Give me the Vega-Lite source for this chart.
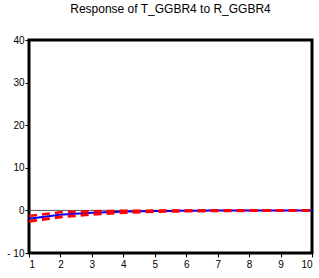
{
  "$schema": "https://vega.github.io/schema/vega-lite/v6.json",
  "autosize": "none",
  "width": 283,
  "height": 213,
  "padding": {"left": 29, "top": 40, "right": 7, "bottom": 25},
  "background": "white",
  "title": {"text": "Response of T_GGBR4 to R_GGBR4", "font": "Liberation Sans", "fontSize": 12, "fontWeight": "normal", "color": "#000000", "offset": 19, "anchor": "middle"},
  "config": {
    "view": {"stroke": "#000000", "strokeWidth": 3},
    "axis": {"labelFont": "Liberation Sans", "labelFontSize": 10, "labelColor": "#000000", "tickColor": "#000000", "tickWidth": 1, "tickSize": 4, "domain": false, "grid": false, "title": null}
  },
  "datasets": {
    "irf": [
      {"x": 1, "value": -1.95, "series": "resp"},
      {"x": 2, "value": -1.0, "series": "resp"},
      {"x": 3, "value": -0.55, "series": "resp"},
      {"x": 4, "value": -0.3, "series": "resp"},
      {"x": 5, "value": -0.15, "series": "resp"},
      {"x": 6, "value": -0.08, "series": "resp"},
      {"x": 7, "value": -0.04, "series": "resp"},
      {"x": 8, "value": -0.02, "series": "resp"},
      {"x": 9, "value": -0.01, "series": "resp"},
      {"x": 10, "value": 0.0, "series": "resp"},
      {"x": 1, "value": -1.3, "series": "upper"},
      {"x": 2, "value": -0.45, "series": "upper"},
      {"x": 3, "value": -0.2, "series": "upper"},
      {"x": 4, "value": -0.1, "series": "upper"},
      {"x": 5, "value": -0.04, "series": "upper"},
      {"x": 6, "value": 0.0, "series": "upper"},
      {"x": 7, "value": 0.01, "series": "upper"},
      {"x": 8, "value": 0.01, "series": "upper"},
      {"x": 9, "value": 0.01, "series": "upper"},
      {"x": 10, "value": 0.01, "series": "upper"},
      {"x": 1, "value": -2.55, "series": "lower"},
      {"x": 2, "value": -1.55, "series": "lower"},
      {"x": 3, "value": -0.9, "series": "lower"},
      {"x": 4, "value": -0.5, "series": "lower"},
      {"x": 5, "value": -0.27, "series": "lower"},
      {"x": 6, "value": -0.16, "series": "lower"},
      {"x": 7, "value": -0.09, "series": "lower"},
      {"x": 8, "value": -0.05, "series": "lower"},
      {"x": 9, "value": -0.03, "series": "lower"},
      {"x": 10, "value": -0.02, "series": "lower"}
    ],
    "zero": [{"y": 0}]
  },
  "layer": [
    {
      "data": {"name": "zero"},
      "mark": {"type": "rule", "color": "#555555", "strokeWidth": 1},
      "encoding": {"y": {"field": "y", "type": "quantitative", "scale": {"domain": [-10, 40]}}}
    },
    {
      "data": {"name": "irf"},
      "mark": {"type": "line", "clip": true},
      "encoding": {
        "x": {"field": "x", "type": "quantitative", "scale": {"domain": [1, 10], "nice": false}, "axis": {"values": [1,2,3,4,5,6,7,8,9,10], "labelPadding": 2}},
        "y": {"field": "value", "type": "quantitative", "scale": {"domain": [-10, 40], "nice": false}, "axis": {"values": [-10,0,10,20,30,40], "labelPadding": 1, "labelExpr": "datum.value < 0 ? '- ' + format(-datum.value, 'd') : datum.label"}},
        "detail": {"field": "series", "type": "nominal"},
        "color": {"field": "series", "type": "nominal", "scale": {"domain": ["resp", "upper", "lower"], "range": ["#0000ff", "#ff0000", "#ff0000"]}, "legend": null},
        "strokeDash": {"field": "series", "type": "nominal", "scale": {"domain": ["resp", "upper", "lower"], "range": [[1, 0], [8, 5], [8, 5]]}, "legend": null},
        "strokeWidth": {"field": "series", "type": "nominal", "scale": {"domain": ["resp", "upper", "lower"], "range": [2, 3, 3]}, "legend": null},
        "order": {"field": "x", "type": "quantitative"}
      }
    }
  ]
}
